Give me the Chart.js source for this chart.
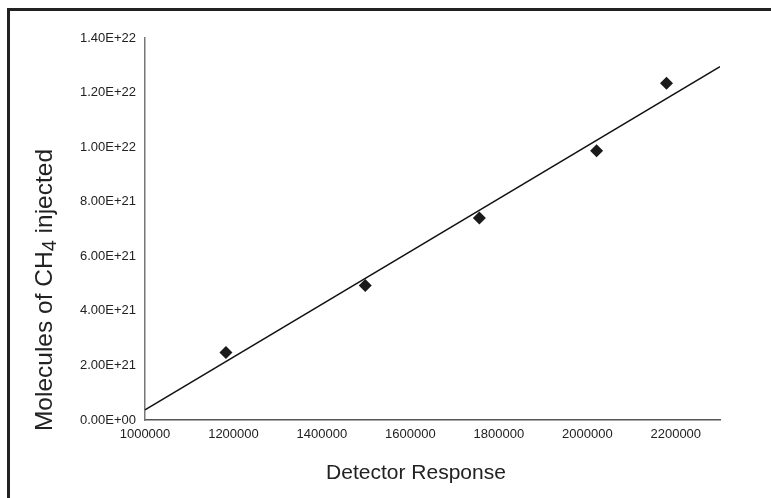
<!DOCTYPE html>
<html>
<head>
<meta charset="utf-8">
<script src="https://cdn.jsdelivr.net/npm/chart.js@4/dist/chart.umd.min.js"></script>
<style>
  html, body { margin: 0; padding: 0; background: #fff; overflow: hidden; }
  #wrap { position: relative; width: 771px; height: 498px; }
  #frame {
    position: absolute; left: 7px; top: 8px;
    width: 900px; height: 600px;
    border: 3px solid #222;
    box-sizing: border-box;
    pointer-events: none;
  }
  canvas { position: absolute; left: 0; top: 0; }
</style>
</head>
<body>
<div id="wrap">
  <canvas id="calib" width="771" height="498"></canvas>
  <div id="frame"></div>
</div>
<script>
(function() {
  var ctx = document.getElementById('calib');

  // detector response vs molecules of CH4 injected
  var detectorResponse = [1183000, 1498000, 1756000, 2021000, 2179000];
  var molecules        = [2.47e21, 4.93e21, 7.40e21, 9.87e21, 1.234e22];

  // linear trendline, end points as drawn
  var fitX = [1000000, 2300000];
  var fitY = [0.37e21, 1.295e22];

  var xTicks = [1000000, 1200000, 1400000, 1600000, 1800000, 2000000, 2200000];
  var yTicks = [0, 2e21, 4e21, 6e21, 8e21, 1e22, 1.2e22, 1.4e22];

  var textColor = '#222';
  var fontFamily = '"Liberation Sans", Arial, sans-serif';

  function pairs(xs, ys) {
    return xs.map(function(x, i) { return { x: x, y: ys[i] }; });
  }

  /* 1.40E+22 style labels */
  function sci(v) {
    if (v === 0) return '0.00E+00';
    var exp = Math.floor(Math.log10(Math.abs(v)));
    var mant = v / Math.pow(10, exp);
    if (Math.round(mant * 100) >= 1000) { mant /= 10; exp += 1; }
    var e = Math.abs(exp) < 10 ? '0' + Math.abs(exp) : '' + Math.abs(exp);
    return mant.toFixed(2) + 'E' + (exp < 0 ? '-' : '+') + e;
  }

  new Chart(ctx, {
    type: 'scatter',
    data: {
      datasets: [
        {
          label: 'Measured',
          data: pairs(detectorResponse, molecules),
          pointStyle: 'rectRot',
          pointRadius: 6.5,
          pointBackgroundColor: '#1a1a1a',
          pointBorderColor: '#1a1a1a',
          pointBorderWidth: 0,
          showLine: false
        },
        {
          label: 'Linear fit',
          data: pairs(fitX, fitY),
          showLine: true,
          borderColor: '#111',
          borderWidth: 1.5,
          pointRadius: 0,
          fill: false
        }
      ]
    },
    options: {
      responsive: false,
      animation: false,
      layout: { padding: { top: 38, right: 51, bottom: 0, left: 0 } },
      plugins: {
        legend: { display: false },
        tooltip: { enabled: false }
      },
      scales: {
        x: {
          type: 'linear',
          min: 1000000,
          max: 2300000,
          grid: { display: false, drawTicks: false },
          border: { display: true, color: '#555', width: 1.5 },
          afterBuildTicks: function(axis) {
            axis.ticks = xTicks.map(function(v) { return { value: v }; });
          },
          afterFit: function(axis) { axis.height = 78; },
          ticks: {
            padding: 7,
            maxRotation: 0,
            autoSkip: false,
            color: textColor,
            font: { size: 13, family: fontFamily },
            callback: function(v) { return String(v); }
          }
        },
        y: {
          type: 'linear',
          min: 0,
          max: 1.4e22,
          grid: { display: false, drawTicks: false },
          border: { display: true, color: '#777', width: 1.5 },
          afterBuildTicks: function(axis) {
            axis.ticks = yTicks.map(function(v) { return { value: v }; });
          },
          afterFit: function(axis) { axis.width = 145; },
          ticks: {
            padding: 9,
            autoSkip: false,
            color: textColor,
            font: { size: 13, family: fontFamily },
            callback: function(v) { return sci(v); }
          }
        }
      }
    },
    plugins: [{
      id: 'axisTitles',
      afterDraw: function(chart) {
        var c = chart.ctx;
        c.save();
        c.fillStyle = textColor;

        /* x title */
        c.font = '21px ' + fontFamily;
        c.textAlign = 'center';
        c.textBaseline = 'alphabetic';
        c.fillText('Detector Response', 416, 479);

        /* y title with subscript 4 */
        var big = '24.5px ' + fontFamily;
        var small = '20px ' + fontFamily;
        var parts = [
          { t: 'Molecules of CH', f: big, dy: 0 },
          { t: '4', f: small, dy: 4 },
          { t: ' injected', f: big, dy: 0 }
        ];
        var total = 0;
        parts.forEach(function(p) { c.font = p.f; p.w = c.measureText(p.t).width; total += p.w; });
        c.translate(52, 290);
        c.rotate(-Math.PI / 2);
        c.textAlign = 'left';
        var x = -total / 2;
        parts.forEach(function(p) {
          c.font = p.f;
          c.fillText(p.t, x, p.dy);
          x += p.w;
        });
        c.restore();
      }
    }]
  });
})();
</script>
</body>
</html>
